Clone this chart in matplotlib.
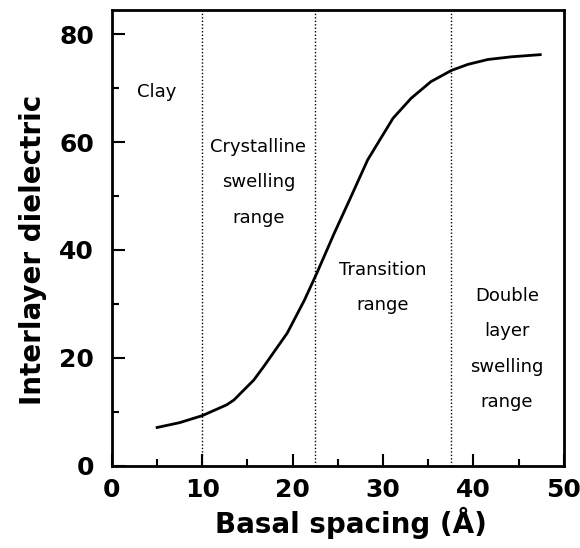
import matplotlib
matplotlib.use("Agg")
import matplotlib.pyplot as plt
from matplotlib.ticker import MultipleLocator

# curve
spacing = [5.0, 7.5, 10.0, 12.7, 13.5, 15.7, 16.8, 19.4, 21.3, 22.7, 24.6,
           26.3, 28.3, 31.1, 33.1, 35.3, 37.6, 39.4, 41.6, 44.2, 47.4]
dielectric = [7.1, 8.0, 9.3, 11.3, 12.2, 15.9, 18.4, 24.6, 30.7, 35.8, 43.1,
              49.3, 56.7, 64.4, 68.1, 71.2, 73.3, 74.4, 75.3, 75.8, 76.2]

boundaries = [10.0, 22.5, 37.5]

region_labels = ["Clay", "Crystalline\nswelling\nrange",
                 "Transition\nrange", "Double\nlayer\nswelling\nrange"]
label_x = [5.0, 16.2, 30.0, 43.7]
label_y = [70.9, 60.8, 38.0, 33.2]

fig = plt.figure(figsize=(5.8, 5.48), dpi=100)
ax = fig.add_axes([0.193, 0.150, 0.779, 0.832])

ax.plot(spacing, dielectric, color="black", lw=2.0)
for b in boundaries:
    ax.axvline(b, color="black", lw=1.0, ls=(0, (1, 1.5)))

for txt, x, y in zip(region_labels, label_x, label_y):
    ax.text(x, y, txt, ha="center", va="top", fontsize=13,
            linespacing=2.25)

ax.set_xlim(0, 50)
ax.set_ylim(0, 84.5)
ax.xaxis.set_major_locator(MultipleLocator(10))
ax.xaxis.set_minor_locator(MultipleLocator(5))
ax.yaxis.set_major_locator(MultipleLocator(20))
ax.yaxis.set_minor_locator(MultipleLocator(10))
ax.tick_params(which="both", direction="in", top=False, right=False,
               width=1.5)
ax.tick_params(which="major", length=9, labelsize=18)
ax.tick_params(axis="x", which="major", pad=9)
ax.tick_params(axis="y", which="major", pad=13)
ax.tick_params(which="minor", length=5)
for lab in ax.get_xticklabels() + ax.get_yticklabels():
    lab.set_fontweight("bold")
for s in ax.spines.values():
    s.set_linewidth(2)

ax.set_xlabel("Basal spacing (Å)", fontsize=20, fontweight="bold")
ax.set_ylabel("Interlayer dielectric", fontsize=20, fontweight="bold")
ax.xaxis.set_label_coords(0.529, -0.09)
ax.yaxis.set_label_coords(-0.144, 0.474)

fig.savefig("out.png", dpi=100)
